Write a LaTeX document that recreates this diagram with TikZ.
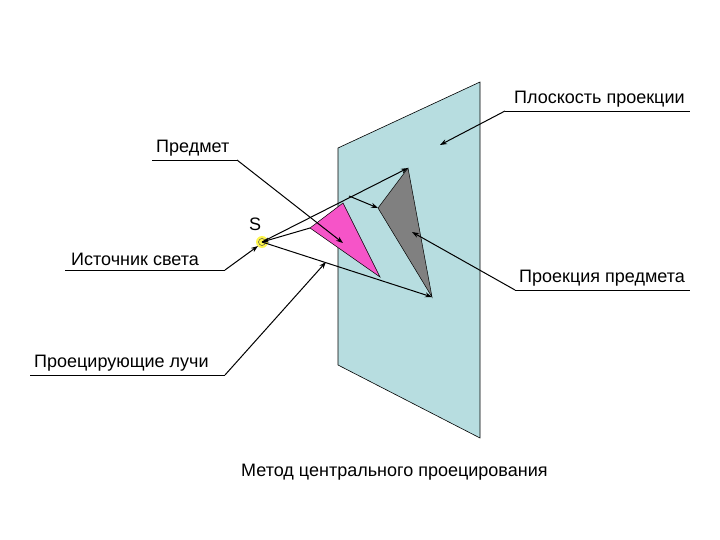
\documentclass[tikz,border=0pt]{standalone}
\usepackage{fontspec}
\setmainfont{Liberation Sans}
\usetikzlibrary{arrows.meta}
\begin{document}
\begin{tikzpicture}[x=1pt,y=-1pt,
  lbl/.style={font=\fontsize{18}{21}\selectfont,inner sep=1pt,anchor=south west},
  ln/.style={black,line width=0.6pt},
  arr/.style={black,line width=1pt,-{Stealth[length=7pt,width=5pt]}}]
\useasboundingbox (0,0) rectangle (720,540);
\fill[white] (0,0) rectangle (720,540);
% plane
\draw[fill={rgb,255:red,183;green,221;blue,224},line width=0.6pt] (338,148) -- (480,82) -- (480,438) -- (338,365) -- cycle;
% triangles
\draw[fill={rgb,255:red,246;green,84;blue,200},line width=0.5pt] (310,228) coordinate(p1) -- (343,203) coordinate(p2) -- (380,277) coordinate(p3) -- cycle;
\draw[fill={rgb,255:red,128;green,128;blue,128},line width=0.5pt] (378,208) coordinate(g1) -- (408,168) coordinate(g2) -- (432,297) coordinate(g3) -- cycle;
% source
\coordinate (S) at (262,242);
\fill[yellow!70!white] (S) circle (6);
\draw[line width=0.5pt,black!70] (S) circle (3.5);
\node[lbl,anchor=south] (sl) at (255,232) {S};
% rays
\draw[arr] (S) -- (g2);
\draw[arr] (p1) -- (S);
\draw[arr] (S) -- (g3);
\draw[arr] (349,196) -- (g1);
% labels
\node[lbl] (t1) at (513,108) {Плоскость проекции};
\draw[ln] (505,111) coordinate(u1) -- (690,111);
\draw[arr] (u1) -- (440,145);
\node[lbl] (t2) at (155,157) {Предмет};
\draw[ln] (152,160) -- (237,160) coordinate(u2);
\draw[arr] (u2) -- (343,243);
\node[lbl] (t3) at (70,267) {Источник света};
\draw[ln] (65,270) -- (225,270) coordinate(u3);
\draw[arr] (u3) -- (258,246);
\node[lbl] (t4) at (518,287) {Проекция предмета};
\draw[ln] (515,290) coordinate(u4) -- (690,290);
\draw[arr] (u4) -- (412,232);
\node[lbl] (t5) at (33,372) {Проецирующие лучи};
\draw[ln] (30,375) -- (225,375) coordinate(u5);
\draw[arr] (u5) -- (326,262);
\node[lbl] (t6) at (240,481) {Метод центрального проецирования};
\end{tikzpicture}
\end{document}
